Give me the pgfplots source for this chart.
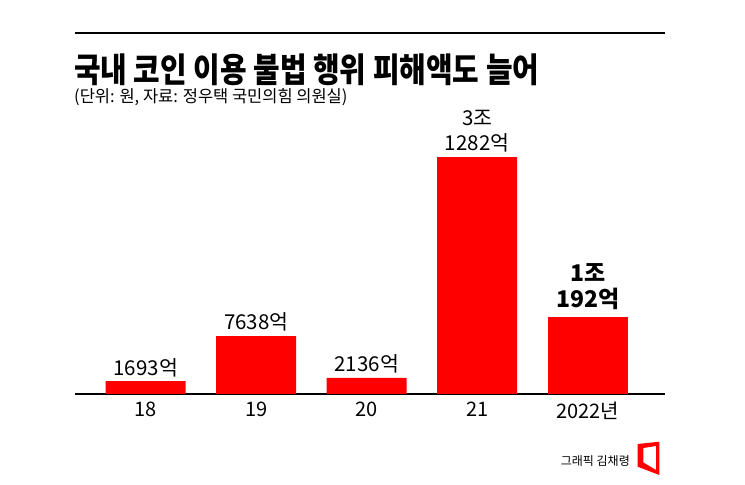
\documentclass[border=0pt]{standalone}
\usepackage{pgfplots}
\pgfplotsset{compat=1.18}
\usepackage{graphicx}
\usepackage{fontspec}
\setmainfont{Noto Sans CJK KR}
\definecolor{barred}{RGB}{255,0,0}

\begin{document}
\begin{tikzpicture}[x=1pt,y=1pt]
\path[use as bounding box] (0,0) rectangle (745,485);

% header
\draw[line width=2pt] (75,452) -- (665,452);
\node[anchor=west,inner sep=0] at (74,415)
  {\scalebox{0.85}[1]{\fontsize{34}{34}\selectfont\bfseries 국내 코인 이용 불법 행위 피해액도 늘어}};
\node[anchor=west,inner sep=0] at (74,388)
  {\scalebox{1.03}[1.05]{\fontsize{16}{16}\selectfont (단위: 원, 자료: 정우택 국민의힘 의원실)}};

\begin{axis}[
    at={(75pt,91pt)}, anchor=south west,
    scale only axis,
    width=590pt, height=303.04pt,
    xmin=-0.64, xmax=4.7,
    ymin=0, ymax=40000,
    ybar, bar width=80pt, bar shift=0pt,
    axis x line*=bottom,
    hide y axis,
    axis line style={black,line width=1.2pt,-},
    xtick={0,1,2,3,4},
    xticklabels={18,19,20,21,2022년},
    major tick length=0pt,
    xticklabel style={font=\fontsize{20}{20}\selectfont,yshift=-4pt},
    point meta=explicit symbolic,
    nodes near coords,
    nodes near coords style={font=\fontsize{20.5}{25}\selectfont,align=center,text=black,yshift=1pt},
    clip=false,
]
\addplot[fill=barred,draw=none] coordinates {
  (0,1693) [1693억]
  (1,7638) [7638억]
  (2,2136) [2136억]
  (3,31282) [3조\\1282억]
};
\addplot[fill=barred,draw=none,
  nodes near coords style={font=\fontsize{23}{26}\selectfont\bfseries,yshift=3pt}] coordinates {
  (4,10192) [1조\\192억]
};
\end{axis}

% credit
\node[anchor=east,inner sep=0] at (630,24)
  {\fontsize{12}{12}\selectfont 그래픽 김채령};
\fill[barred,even odd rule]
  (637.7,41) -- (659.3,43.3) -- (659.3,10) -- (637.7,18.3) -- cycle
  (643.4,37) -- (656,39) -- (656,15) -- (643.4,22.5) -- cycle;
\end{tikzpicture}
\end{document}
